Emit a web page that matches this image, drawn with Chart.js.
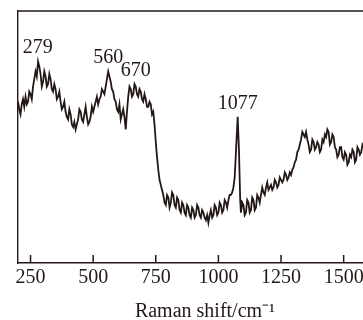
<!DOCTYPE html>
<html><head><meta charset="utf-8">
<script src="https://cdn.jsdelivr.net/npm/chart.js@4/dist/chart.umd.min.js"></script>
<style>
html,body{margin:0;padding:0;background:#fff;overflow:hidden;}
#wrap{position:relative;width:400px;height:324px;}
</style></head><body>
<div id="wrap"><canvas id="c" width="400" height="324"></canvas></div>
<script>
const ramanShift = [
200,205,210,215,220,225,230,235,240,245,250,255,260,265,270,275,280,285,290,295,
300,305,310,315,320,325,330,335,340,345,350,355,360,365,370,375,380,385,390,395,
400,405,410,415,420,425,430,435,440,445,450,455,460,465,470,475,480,485,490,495,
500,505,510,515,520,525,530,535,540,545,550,555,560,565,570,575,580,585,590,595,
600,605,610,615,620,625,630,635,640,645,650,655,660,665,670,675,680,685,690,695,
700,705,710,715,720,725,730,735,740,745,750,755,760,765,770,775,780,785,790,795,
800,805,810,815,820,825,830,835,840,845,850,855,860,865,870,875,880,885,890,895,
900,905,910,915,920,925,930,935,940,945,950,955,960,965,970,975,980,985,990,995,
1000,1005,1010,1015,1020,1025,1030,1035,1040,1045,1050,1055,1060,
1065,1070,1077,1082,1087,1090,
1095,1100,1105,1110,1115,1120,1125,1130,1135,1140,1145,1150,1155,1160,1165,1170,1175,1180,1185,1190,1195,
1200,1205,1210,1215,1220,1225,1230,1235,1240,1245,1250,1255,1260,1265,1270,1275,1280,1285,1290,1295,
1300,1305,1310,1315,1320,1325,1330,1335,1340,1345,1350,1355,1360,1365,1370,1375,1380,1385,1390,1395,
1400,1405,1410,1415,1420,1425,1430,1435,1440,1445,1450,1455,1460,1465,1470,1475,1480,1485,1490,1495,
1500,1505,1510,1515,1520,1525,1530,1535,1540,1545,1550,1555,1560,1565,1570,1575,1580];
const intensity = [
64,61,59,63,65,62,66,63,64,68,67,65,70,73,76,74,80,78,75,70,
72,76,74,70,71,75,73,69,68,71,69,65,66,68,64,61,62,64,60,58,
57,61,59,55,54,56,53,55,57,61,60,57,56,59,62,58,55,56,58,62,
60,62,64,66,63,65,66,69,68,67,70,73,76,74,72,69,68,65,64,61,
60,63,57,59,61,58,53,60,66,70,69,66,67,71,70,67,66,69,68,65,
64,67,65,62,62,64,63,59,60,55,48,42,37,33,31,29,27,24,23,27,
26,22,24,28,27,23,22,26,25,21,20,24,23,20,19,23,22,19,18,22,
21,18,19,23,22,19,18,21,20,18,17,19,16,19,21,18,19,23,22,19,
20,24,23,20,21,25,24,22,25,27,27,28,30,
34,44,58,45,25,20,
24,23,19,20,25,24,20,21,26,25,21,22,27,26,24,27,30,28,27,30,32,
29,30,31,29,30,33,32,30,31,34,33,32,33,36,35,33,34,36,35,37,
38,40,41,44,45,47,49,52,51,50,52,49,47,44,45,49,48,45,46,48,
47,44,45,49,48,51,50,53,52,47,48,51,50,46,45,42,43,46,46,42,
41,44,43,39,40,43,42,45,44,40,41,46,45,43,44,47,46];
const tickValues = [250,500,750,1000,1250,1500];
const peakLabels = ['279','560','670','1077'];
const axisTitle = 'Raman shift/cm\u207B\u00B9';

const ink = '#231815';
const serif = '"Liberation Serif", "Times New Roman", serif';

const extras = {
  id: 'extras',
  afterDraw(chart) {
    const {ctx, chartArea: a, scales: {x, y}} = chart;
    ctx.save();
    ctx.strokeStyle = ink; ctx.lineWidth = 1.4;
    ctx.beginPath(); ctx.moveTo(a.left, a.top); ctx.lineTo(a.right, a.top); ctx.stroke();
    ctx.lineWidth = 1.5;
    tickValues.forEach(v => {
      const px = x.getPixelForValue(v);
      ctx.beginPath(); ctx.moveTo(px, a.bottom); ctx.lineTo(px, a.bottom - 8); ctx.stroke();
    });
    ctx.font = '20px ' + serif; ctx.fillStyle = ink;
    ctx.textAlign = 'center'; ctx.textBaseline = 'alphabetic';
    peakLabels.forEach(lbl => {
      const v = Number(lbl);
      let best = -Infinity;
      ramanShift.forEach((s, i) => { if (Math.abs(s - v) <= 15 && intensity[i] > best) best = intensity[i]; });
      ctx.fillText(lbl, x.getPixelForValue(v), y.getPixelForValue(best) - 8);
    });
    ctx.restore();
  }
};

new Chart(document.getElementById('c'), {
  type: 'line',
  data: {
    datasets: [{
      data: ramanShift.map((s, i) => ({x: s, y: intensity[i]})),
      borderColor: ink, borderWidth: 1.8, pointRadius: 0, tension: 0, fill: false
    }]
  },
  options: {
    responsive: false, animation: false,
    layout: {padding: {left: 18, top: 11, right: 8, bottom: 0}},
    plugins: {legend: {display: false}, tooltip: {enabled: false}},
    scales: {
      x: {
        type: 'linear', min: 200, max: 1693,
        afterBuildTicks: s => { s.ticks = tickValues.map(v => ({value: v})); },
        afterFit: s => { s.height = 61; },
        grid: {display: false, drawTicks: false, tickLength: 0},
        border: {display: true, color: ink, width: 1.4},
        ticks: {color: ink, font: {family: serif, size: 20}, padding: 3, maxRotation: 0, autoSkip: false,
                callback: v => String(v)},
        title: {display: true, text: axisTitle, color: ink, font: {family: serif, size: 20}, padding: {top: 0, bottom: 0}}
      },
      y: {
        min: 0, max: 100,
        afterFit: s => { s.width = 0; },
        grid: {display: false, drawTicks: false},
        border: {display: true, color: ink, width: 1.4},
        ticks: {display: false}
      }
    }
  },
  plugins: [extras]
});
</script>
</body></html>
